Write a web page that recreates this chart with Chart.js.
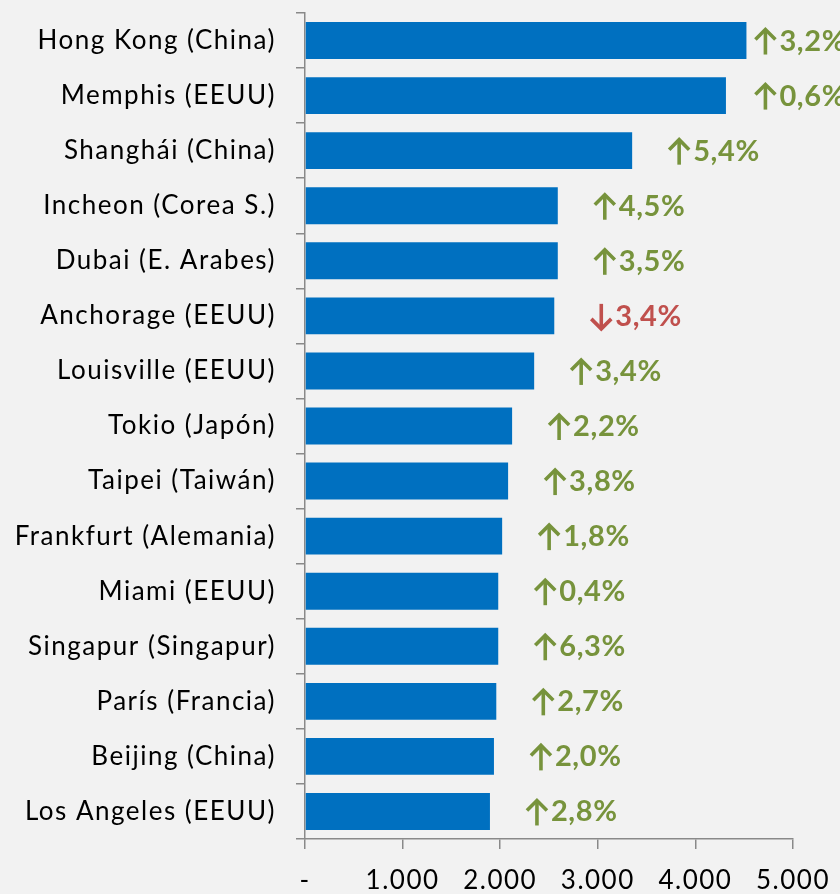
<!DOCTYPE html>
<html><head><meta charset="utf-8">
<script src="https://cdn.jsdelivr.net/npm/chart.js@4.4.1/dist/chart.umd.min.js"></script>
<style>html,body{margin:0;padding:0;background:#f2f2f2;}#wrap{width:840px;height:894px;position:relative;overflow:hidden}</style>
</head><body><div id="wrap"><canvas id="c" width="840" height="894"></canvas></div>
<script>
const categories = ["Hong Kong (China)","Memphis (EEUU)","Shanghái (China)","Incheon (Corea S.)","Dubai (E. Arabes)","Anchorage (EEUU)","Louisville (EEUU)","Tokio (Japón)","Taipei (Taiwán)","Frankfurt (Alemania)","Miami (EEUU)","Singapur (Singapur)","París (Francia)","Beijing (China)","Los Angeles (EEUU)"];
const cargoValues = [4523,4313,3352,2590,2590,2554,2348,2122,2081,2020,1980,1980,1960,1936,1895];
const changePct = [3.2,0.6,5.4,4.5,3.5,-3.4,3.4,2.2,3.8,1.8,0.4,6.3,2.7,2.0,2.8];
const xTickValues = [0,1000,2000,3000,4000,5000];

const FONT = "Lato, 'Open Sans', sans-serif";
const UP = '#77933C', DOWN = '#C0504D';

const bgPlugin = {
  id:'bg',
  beforeUpdate(chart){ try{chart.ctx.letterSpacing='1.5px';}catch(e){} },
  beforeDraw(chart){const c=chart.ctx;try{c.letterSpacing='1.5px';}catch(e){} c.save();c.fillStyle='#f2f2f2';c.fillRect(0,0,chart.width,chart.height);c.restore();}
};
function drawArrow(ctx, x, base, up, color){
  const cx = x + 11, top = base - 22, bot = base + 4;
  ctx.save();
  ctx.strokeStyle = color; ctx.lineWidth = 3.6; ctx.lineCap = 'butt'; ctx.lineJoin = 'miter';
  ctx.beginPath();
  ctx.moveTo(cx, up ? top + 2 : top); ctx.lineTo(cx, up ? bot : bot - 2); ctx.stroke();
  ctx.beginPath();
  if (up){ ctx.moveTo(cx - 10, top + 11); ctx.lineTo(cx, top + 1); ctx.lineTo(cx + 10, top + 11); }
  else { ctx.moveTo(cx - 10, bot - 11); ctx.lineTo(cx, bot - 1); ctx.lineTo(cx + 10, bot - 11); }
  ctx.stroke();
  ctx.restore();
}
const pctLabels = {
  id:'pctLabels',
  afterDatasetsDraw(chart){
    const ctx=chart.ctx; const meta=chart.getDatasetMeta(0);
    ctx.save();
    try{ctx.letterSpacing='0.6px';}catch(e){}
    ctx.textBaseline='alphabetic'; ctx.textAlign='left';
    ctx.font = "bold 29px " + FONT;
    meta.data.forEach((el,i)=>{
      const v=changePct[i];
      const num = Math.abs(v).toFixed(1).replace('.',',')+'%';
      const wa = 25;
      const w = wa + ctx.measureText(num).width;
      const x=Math.min(el.x+36, chart.width-w+6);
      const base = el.y + 10;
      const col = v<0?DOWN:UP;
      drawArrow(ctx, x, base, v>=0, col);
      ctx.fillStyle = col;
      ctx.fillText(num, x + wa, base);
    });
    ctx.restore();
  }
};

new Chart(document.getElementById('c'),{
  type:'bar',
  data:{labels:categories,datasets:[{data:cargoValues,backgroundColor:'#0070C0',borderWidth:0,categoryPercentage:1,barPercentage:0.67}]},
  options:{
    indexAxis:'y',responsive:false,animation:false,devicePixelRatio:1,
    layout:{padding:{top:13,right:47,bottom:0,left:0}},
    plugins:{legend:{display:false},tooltip:{enabled:false}},
    scales:{
      x:{min:0,max:5000,
        afterBuildTicks(s){s.ticks=xTickValues.map(v=>({value:v}));},
        afterFit(s){s.height=55;s.paddingLeft=0;s.paddingRight=0;},
        border:{display:true,color:'#898989',width:1.5},
        grid:{display:true,drawOnChartArea:false,drawTicks:true,tickLength:10,color:'#898989',lineWidth:1.5},
        ticks:{color:'#000',font:{family:FONT,size:26},padding:16,maxRotation:0,
          callback:(v)=> v===0?'-':v.toLocaleString('de-DE')}
      },
      y:{
        afterFit(s){s.width=305;s.paddingTop=0;s.paddingBottom=0;},
        border:{display:true,color:'#898989',width:1.5},
        grid:{display:true,drawOnChartArea:false,offset:true,tickLength:9,color:'#898989',lineWidth:1.5},
        ticks:{color:'#000',font:{family:FONT,size:26},padding:20,autoSkip:false}
      }
    }
  },
  plugins:[bgPlugin,pctLabels]
});
</script></body></html>
